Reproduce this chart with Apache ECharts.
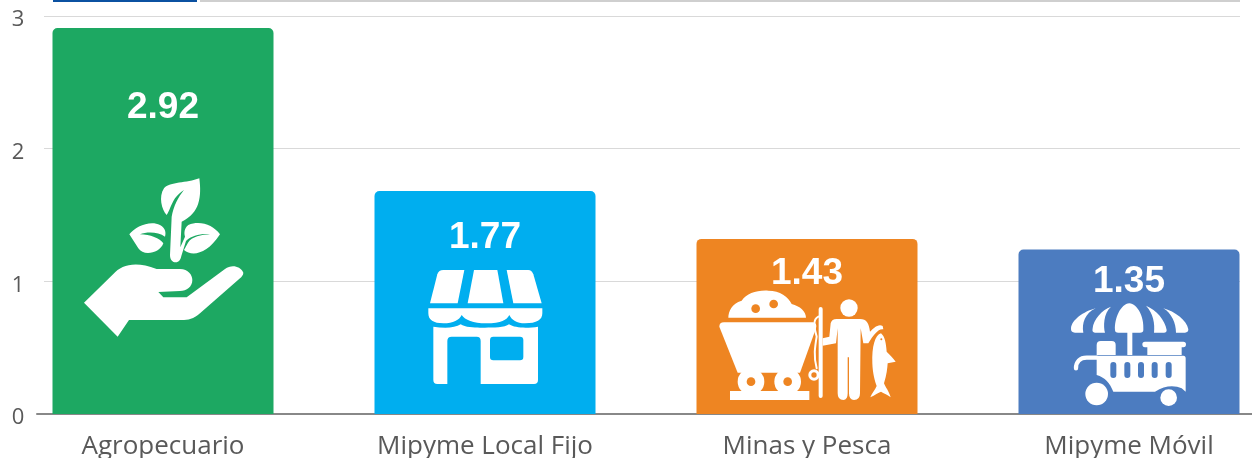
<!DOCTYPE html>
<html>
<head>
<meta charset="utf-8">
<style>
  html, body { margin: 0; padding: 0; background: #fff; }
  #chart { width: 1252px; height: 458px; }
</style>
<script src="https://cdn.jsdelivr.net/npm/echarts@6/dist/echarts.min.js"></script>
</head>
<body>
<div id="chart"></div>
<script>
var categories = ['Agropecuario', 'Mipyme Local Fijo', 'Minas y Pesca', 'Mipyme Móvil'];
// printed figures
var valueLabels = ['2.92', '1.77', '1.43', '1.35'];
// bar heights as drawn, the bars in the picture sit a bit under their printed figure
var barHeights = [2.91, 1.68, 1.32, 1.24];
var barColors = ['#1DA862', '#00AEEF', '#EE8522', '#4C7CC0'];
var yTicks = [0, 1, 2, 3];

// icons are traced at 3x, origin is given from the bar's bottom centre
var icons = [
  {
    dx: -103, dy: -244,
    white: [
      'M418 25C380 40 330 35 312 55C295 80 305 120 320 135C328 125 332 105 345 85C352 75 362 66 372 60C355 80 340 110 335 140L330 255C330 270 338 277 347 277C357 277 362 268 364 258L378 213C395 196 425 190 450 193C425 194 395 200 384 218L372 240C395 260 440 255 480 193C460 165 420 150 385 165C372 175 372 190 375 200L361 232L365 155C420 130 425 80 418 25Z',
      'M208 193C225 170 270 150 300 165C318 175 318 190 315 200C295 185 260 185 240 193C270 193 300 205 310 220C300 250 250 260 235 235Z',
      'M72 398L160 312C185 285 225 272 290 297L360 297C385 297 397 315 397 330C397 350 380 363 360 363L295 366L310 382L380 382L495 297C515 283 540 288 550 308C550 315 545 320 540 325L420 430C400 448 385 450 365 450L207 450L173 500Z'
    ],
    holes: []
  },
  {
    dx: -75, dy: -159,
    white: [
      'M60 145L82 58Q86 45 100 45L163 45L143 145Z',
      'M192 45L262 45L280 145L173 145Z',
      'M290 45L355 45Q365 45 370 58L395 145L310 145Z',
      'M55 160L397 160L397 175C397 195 380 205 345 205C320 205 305 195 298 180C290 195 275 205 228 205C190 205 165 195 155 180C148 195 130 205 100 205C70 205 55 195 55 175Z',
      'M70 215C100 220 135 220 152 208C170 220 210 218 225 218C250 218 285 218 297 208C315 220 355 220 384 215L384 375Q384 387 372 387L212 387L212 258Q212 245 200 245L125 245Q112 245 112 258L112 387L82 387Q70 387 70 375Z'
    ],
    holes: ['M250 245L330 245Q340 245 340 255L340 306Q340 316 330 316L250 316Q240 316 240 306L240 255Q240 245 250 245Z']
  },
  {
    dx: -107, dy: -134,
    white: [
      'M85 113C85 95 95 70 125 62C140 40 170 30 205 32C240 32 265 50 275 72C300 78 318 95 318 113Z',
      'M58 140Q58 127 72 127L340 127Q352 130 348 145L300 278L113 278Z',
      'M90 333L328 333L328 360L90 360Z',
      'M410 117L480 117C500 117 507 130 510 155C520 145 535 130 548 138L550 148C535 145 520 165 505 190L490 190L482 145L480 340Q480 360 462 360Q447 360 447 340L447 232L443 232L443 340Q443 360 430 360Q413 360 413 340L413 145L408 190L368 197L368 175L388 170L392 130Q395 117 410 117Z',
      'M543 160C525 165 515 200 517 250C518 280 525 305 530 318C525 330 515 340 511 352C525 345 535 338 543 335C550 340 565 345 572 352C568 335 555 320 552 310C560 285 562 265 563 250L587 245C580 235 570 225 560 215C558 190 555 170 543 160Z'
    ],
    lines: [
      { d: 'M362 87L362 348', w: 12 },
      { d: 'M355 110C335 120 345 150 350 170C345 200 340 230 350 265', w: 6 }
    ],
    circles: [[153, 305, 40], [263, 305, 40], [447, 84, 26], [342, 285, 17]],
    holes: [],
    holeCircles: [[167, 86, 13], [221, 72, 13], [153, 305, 13], [263, 305, 13], [342, 285, 8], [544, 178, 3]]
  },
  {
    dx: -79, dy: -124,
    white: [
      'M238 40C262 42 283 80 280 120Q280 128 270 128L205 128Q195 128 195 120C193 85 212 42 238 40Z',
      'M183 50C160 70 160 110 165 128L135 128Q125 128 128 115C130 90 155 60 183 50Z',
      'M137 55C105 70 95 100 100 128L75 128Q62 128 63 115C65 90 100 65 137 55Z',
      'M288 47C320 60 345 90 350 120Q350 128 342 128L312 128C315 100 310 70 288 47Z',
      'M340 55C375 65 410 90 415 118Q415 128 405 128L378 128C378 100 365 70 340 55Z',
      'M232 125L247 125L247 195L232 195Z',
      'M140 195L140 165Q140 153 152 153L185 153Q197 153 197 165L197 195Z',
      'M285 155L400 155Q408 155 408 163Q408 172 400 172L395 172L395 195L292 195L292 172L285 172Q277 172 277 163Q277 155 285 155Z',
      'M140 197L400 197Q407 197 407 205L407 305L395 295C375 285 345 285 315 305L190 305C180 280 165 262 140 255Z'
    ],
    lines: [
      { d: 'M78 235C78 215 90 203 110 203L140 203', w: 13 }
    ],
    circles: [[140, 312, 34], [356, 323, 25]],
    holes: [
      'M181 225Q181 216 190 216Q199 216 199 225L199 255Q199 264 190 264Q181 264 181 255Z',
      'M223 225Q223 216 232 216Q241 216 241 225L241 255Q241 264 232 264Q223 264 223 255Z',
      'M264 225Q264 216 273 216Q282 216 282 225L282 255Q282 264 273 264Q264 264 264 255Z',
      'M305 225Q305 216 314 216Q323 216 323 225L323 255Q323 264 314 264Q305 264 305 255Z',
      'M347 225Q347 216 356 216Q365 216 365 225L365 255Q365 264 356 264Q347 264 347 255Z'
    ]
  }
];
// distance from the bar top down to the centre of the printed figure
var labelDrops = [76, 43, 31, 29];

function drawIcon(params, api) {
  var i = api.value(0);
  var icon = icons[i];
  var base = api.coord([i, 0]);
  var kids = [];
  icon.white.forEach(function (d) {
    kids.push({ type: 'path', shape: { pathData: d }, style: { fill: '#fff' } });
  });
  (icon.lines || []).forEach(function (l) {
    kids.push({ type: 'path', shape: { pathData: l.d }, style: { fill: 'none', stroke: '#fff', lineWidth: l.w, lineCap: 'round' } });
  });
  (icon.circles || []).forEach(function (c) {
    kids.push({ type: 'circle', shape: { cx: c[0], cy: c[1], r: c[2] }, style: { fill: '#fff' } });
  });
  icon.holes.forEach(function (d) {
    kids.push({ type: 'path', shape: { pathData: d }, style: { fill: barColors[i] } });
  });
  (icon.holeCircles || []).forEach(function (c) {
    kids.push({ type: 'circle', shape: { cx: c[0], cy: c[1], r: c[2] }, style: { fill: barColors[i] } });
  });
  return {
    type: 'group',
    x: base[0] + icon.dx,
    y: base[1] + icon.dy,
    scaleX: 1 / 3,
    scaleY: 1 / 3,
    children: kids
  };
}

var chart = echarts.init(document.getElementById('chart'));
chart.setOption({
  animation: false,
  // grid 0 has gridlines, grid 1 the bars, grid 2 only the baseline
  // grid 3 holds the tick labels, they hang a little under their gridlines
  // the bar grid runs past the canvas, so the bounds check has to stay off
  grid: [
    { left: 44, right: 12, top: 16, height: 398, outerBoundsMode: 'none' },
    { left: 2, width: 1288, top: 16, height: 398, outerBoundsMode: 'none' },
    { left: 37, right: 0, top: 16, height: 398, outerBoundsMode: 'none' },
    { left: 44, right: 12, top: 20, height: 398, outerBoundsMode: 'none' }
  ],
  xAxis: [
    { gridIndex: 0, type: 'category', data: categories, show: false },
    {
      gridIndex: 1, type: 'category', data: categories,
      axisLine: { show: false }, axisTick: { show: false },
      axisLabel: { color: '#595959', fontFamily: 'Open Sans', fontSize: 26, margin: 20, interval: 0 }
    },
    {
      gridIndex: 2, type: 'category', data: categories,
      axisLine: { lineStyle: { color: '#888', width: 2 } },
      axisTick: { show: false }, axisLabel: { show: false }
    },
    { gridIndex: 3, type: 'category', data: categories, show: false }
  ],
  yAxis: [
    {
      gridIndex: 0, type: 'value', min: yTicks[0], max: yTicks[3], interval: 1,
      axisLine: { show: false }, axisTick: { show: false }, axisLabel: { show: false },
      splitLine: { lineStyle: { color: '#d9d9d9', width: 1 } }
    },
    { gridIndex: 1, type: 'value', min: yTicks[0], max: yTicks[3], show: false },
    { gridIndex: 2, type: 'value', min: yTicks[0], max: yTicks[3], show: false },
    {
      gridIndex: 3, type: 'value', min: yTicks[0], max: yTicks[3], interval: 1,
      axisLine: { show: false }, axisTick: { show: false }, splitLine: { show: false },
      axisLabel: { color: '#595959', fontFamily: 'Open Sans', fontSize: 22, margin: 26, align: 'center' }
    }
  ],
  graphic: [
    { type: 'rect', shape: { x: 53, y: 0, width: 144, height: 2 }, style: { fill: '#0B51A1' } },
    { type: 'rect', shape: { x: 200, y: 0, width: 1040, height: 2 }, style: { fill: '#CFCFCF' } }
  ],
  series: [
    {
      type: 'bar',
      xAxisIndex: 1,
      yAxisIndex: 1,
      barWidth: 221,
      data: barHeights.map(function (h, i) {
        return {
          value: h,
          itemStyle: { color: barColors[i], borderRadius: [5, 5, 0, 0] },
          label: {
            show: true,
            position: 'insideTop',
            distance: labelDrops[i] - 15,
            formatter: valueLabels[i],
            color: '#fff',
            fontFamily: 'Liberation Sans',
            fontWeight: 'bold',
            fontSize: 37
          }
        };
      })
    },
    {
      type: 'custom',
      xAxisIndex: 1,
      yAxisIndex: 1,
      z: 5,
      silent: true,
      data: categories.map(function (c, i) { return [i]; }),
      renderItem: drawIcon
    }
  ]
});
</script>
</body>
</html>
